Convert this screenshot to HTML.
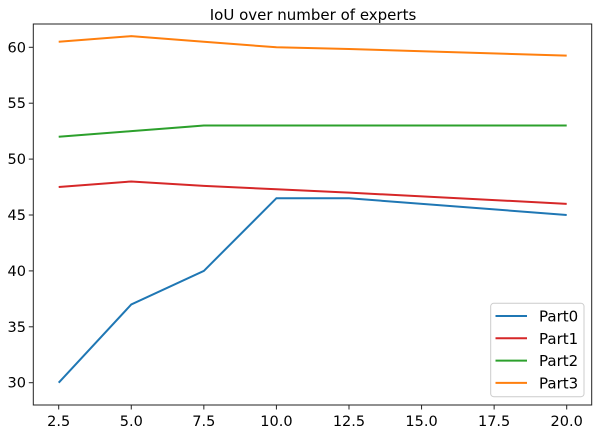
<!DOCTYPE html>
<html><head><meta charset="utf-8"><style>
body{margin:0;background:#fff;}
svg{display:block;font-family:"DejaVu Sans","Liberation Sans",sans-serif;}
</style></head><body>
<svg id="chart" width="598" height="434">
<text x="313" y="20" text-anchor="middle" font-size="15">IoU over number of experts</text>
<g id="grid"></g>
<g id="lines"></g>
<rect x="33.3" y="24" width="558.4" height="381" fill="none" stroke="#222" stroke-width="1"/>
<g id="legend"></g>
</svg>
<script>
const xValues=[2.5,5,7.5,10,12.5,20];
const part0=[30,37,40,46.5,46.5,45];
const part1=[47.5,48,47.6,47.3,47.0,46];
const part2=[52,52.5,53,53,53,53];
const part3=[60.5,61,60.5,60,59.85,59.25];
const seriesNames=["Part0","Part1","Part2","Part3"];
const xTicks=[2.5,5.0,7.5,10.0,12.5,15.0,17.5,20.0];
const yTicks=[30,35,40,45,50,55,60];
const colors=["#1f77b4","#d62728","#2ca02c","#ff7f0e"];
const NS="http://www.w3.org/2000/svg";
const sx=v=>58.7+(v-2.5)*(508/17.5);
const sy=v=>382.7-(v-30)*(335.4/30);
const g=document.getElementById('grid');
function mk(t,a,p){const e=document.createElementNS(NS,t);for(const k in a)e.setAttribute(k,a[k]);p.appendChild(e);return e;}
xTicks.forEach(t=>{
  const l=mk('line',{x1:sx(t),x2:sx(t),y1:405,y2:409.5,stroke:'#222'},g);
  
  
  const tx=mk('text',{x:sx(t),y:426,'text-anchor':'middle','font-size':'14.5'},g);
  tx.textContent=t.toFixed(1);
  
  
});
yTicks.forEach(t=>{
  const l=mk('line',{x1:28.8,x2:33.3,y1:sy(t),y2:sy(t),stroke:'#222'},g);
  
  
  const tx=mk('text',{x:26,y:sy(t)+5,'text-anchor':'end','font-size':'14.5'},g);
  tx.textContent=t;
  
  
});
const lg=document.getElementById('lines');
[part0,part1,part2,part3].forEach((s,i)=>{
  const p=mk('polyline',{points:s.map((v,j)=>sx(xValues[j])+','+sy(v)).join(' '),fill:'none',stroke:colors[i],'stroke-width':2},lg);
  
  
});
const L=document.getElementById('legend');
const box=mk('rect',{x:490.7,y:303.3,width:93.3,height:93.4,rx:3,fill:'#fff','fill-opacity':0.8,stroke:'#ccc'},L);


seriesNames.forEach((n,i)=>{
  const y=316+i*22.3;
  const l=mk('line',{x1:495.5,x2:527,y1:y,y2:y,stroke:colors[i],'stroke-width':2},L);
  
  
  const t=mk('text',{x:539,y:y+5.5,'font-size':'15'},L);
  t.textContent=n;
  
  
});
</script>
</body></html>
